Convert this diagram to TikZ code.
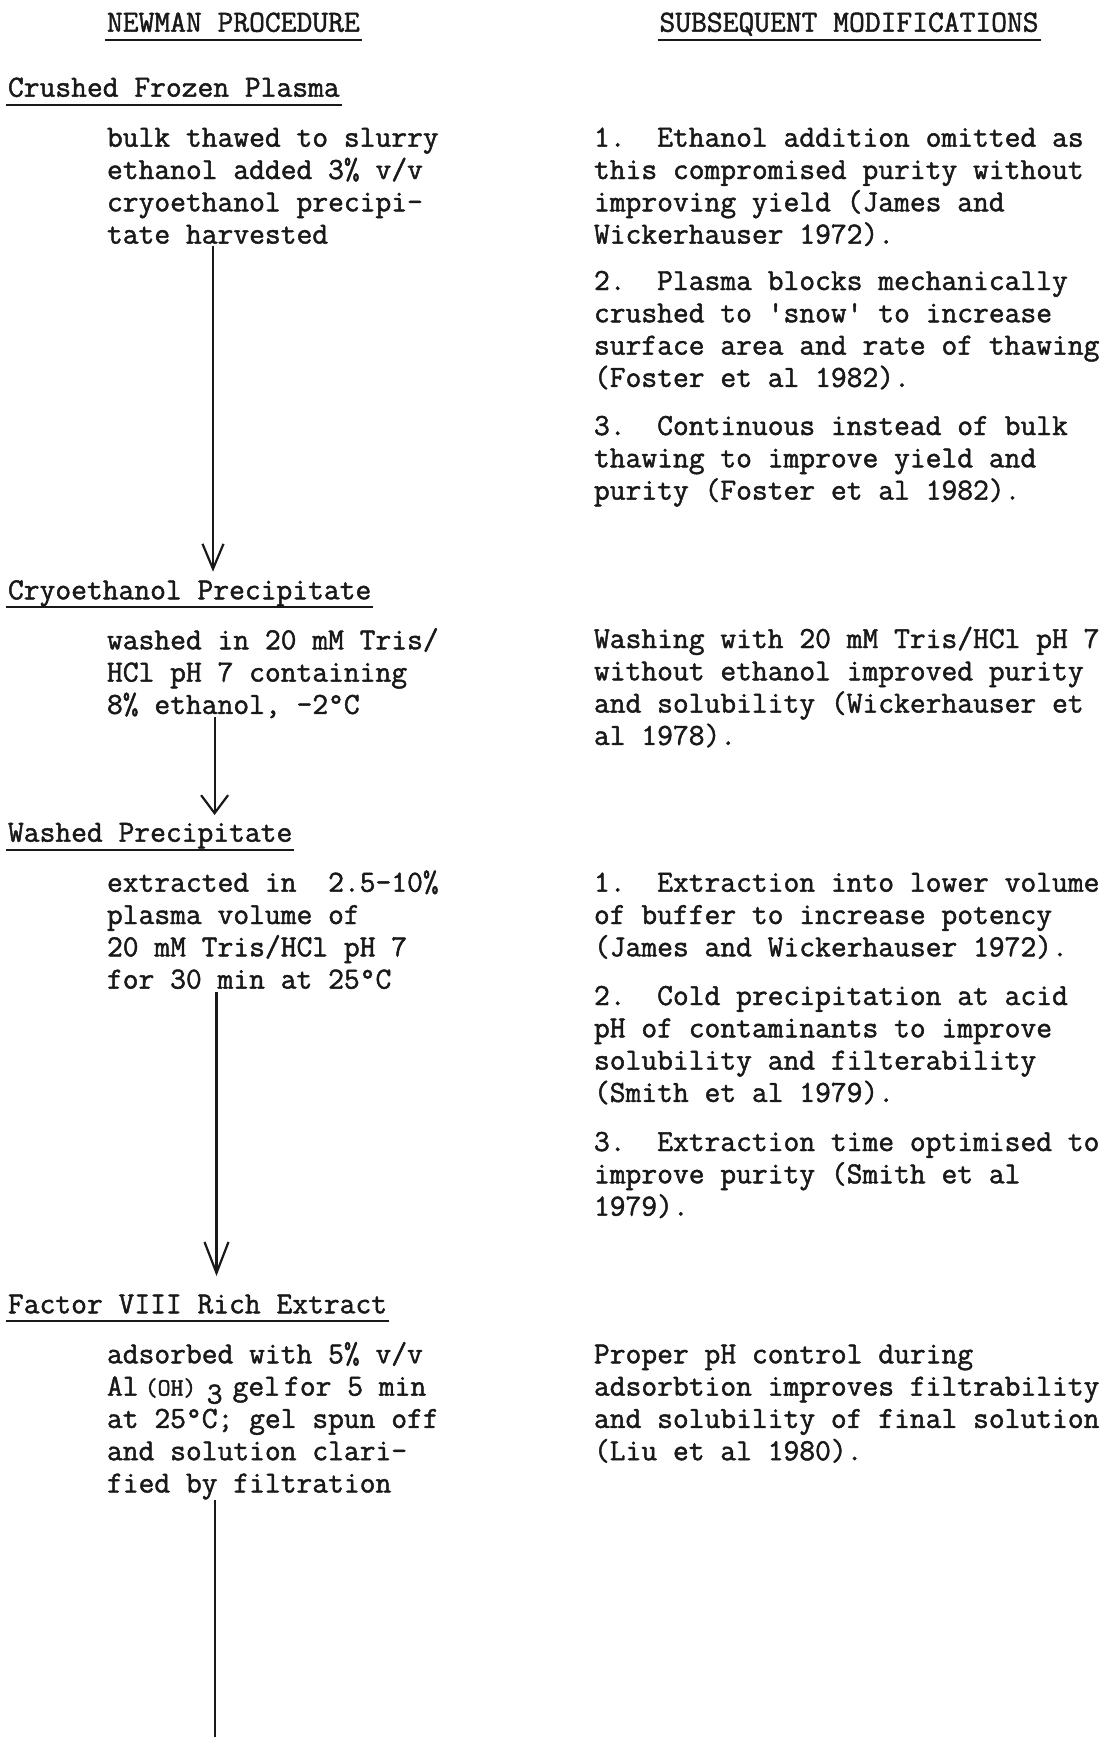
\documentclass[tikz,border=0pt]{standalone}
\usepackage{fontspec}
\setmonofont{Latin Modern Mono}[WordSpace={1,0,0},FakeBold=1.5]
\usetikzlibrary{arrows.meta}
\newcommand\blines[1]{\begin{tabular}[t]{@{}l@{}}#1\end{tabular}}
\begin{document}
\begin{tikzpicture}[x=1pt,y=-1pt,
  txt/.style={anchor=base west,inner sep=0pt,outer sep=0pt,text=black!90,
    font=\ttfamily\frenchspacing\fontsize{30.67}{32.3}\selectfont},
  uline/.style={line width=1.8pt,draw=black!90},
  conn/.style={line width=2.2pt,draw=black!90},
]
\fill[white] (0,0) rectangle (1117,1737);
\useasboundingbox (0,0) rectangle (1117,1737);

% column headings
\node[txt] (h1) at (107,31.7) {NEWMAN PROCEDURE};
\node[txt] (hr) at (659.5,31.7) {SUBSEQUENT MODIFICATIONS};

% stage headings
\node[txt] (s1) at (8,96.7) {Crushed Frozen Plasma};
\node[txt] (s2) at (8,599.3) {Cryoethanol Precipitate};
\node[txt] (s3) at (8,841.7) {Washed Precipitate};
\node[txt] (s4) at (8,1313.3) {Factor VIII Rich Extract};

\foreach \n in {h1,hr,s1,s2,s3,s4}{
  \draw[uline] ([shift={(-2pt,-8pt)}]\n.base west) -- ([shift={(2pt,-8pt)}]\n.base east);
}

% left column descriptions
\node[txt] (l1) at (107,146.7) {\blines{bulk thawed to slurry\\ethanol added 3\% v/v\\cryoethanol precipi-\\tate harvested}};
\node[txt] (l2) at (107,649.3) {\blines{washed in 20 mM Tris/\\HCl pH 7 containing\\8\% ethanol, -2°C}};
\node[txt] (l3) at (107,891.7) {\blines{extracted in\ \ 2.5-10\%\\plasma volume of\\20 mM Tris/HCl pH 7\\for 30 min at 25°C}};
\node[txt] (l4) at (107,1363.3) {\blines{adsorbed with 5\% v/v\\\makebox[37.8pt][l]{Al}\makebox[62pt][l]{\fontsize{25}{32.3}\selectfont(OH)}\makebox[25.8pt][l]{\raisebox{-8pt}{3}}\makebox[51.5pt][l]{gel}for 5 min\\at 25°C; gel spun off\\and solution clari-\\fied by filtration}};

% right column modifications
\node[txt] (r1a) at (594,146.7) {\blines{1.\ \ Ethanol addition omitted as\\this compromised purity without\\improving yield (James and\\Wickerhauser 1972).}};
\node[txt] (r1b) at (594,290) {\blines{2.\ \ Plasma blocks mechanically\\crushed to \textquotesingle snow\textquotesingle{} to increase\\surface area and rate of thawing\\(Foster et al 1982).}};
\node[txt] (r1c) at (594,435) {\blines{3.\ \ Continuous instead of bulk\\thawing to improve yield and\\purity (Foster et al 1982).}};
\node[txt] (r2) at (594,648) {\blines{Washing with 20 mM Tris/HCl pH 7\\without ethanol improved purity\\and solubility (Wickerhauser et\\al 1978).}};
\node[txt] (r3a) at (594,891.7) {\blines{1.\ \ Extraction into lower volume\\of buffer to increase potency\\(James and Wickerhauser 1972).}};
\node[txt] (r3b) at (594,1005) {\blines{2.\ \ Cold precipitation at acid\\pH of contaminants to improve\\solubility and filterability\\(Smith et al 1979).}};
\node[txt] (r3c) at (594,1151) {\blines{3.\ \ Extraction time optimised to\\improve purity (Smith et al\\1979).}};
\node[txt] (r4) at (594,1363.3) {\blines{Proper pH control during\\adsorbtion improves filtrability\\and solubility of final solution\\(Liu et al 1980).}};

% connectors
\coordinate (a1s) at (213,246);
\coordinate (a1e) at (213,571.7);
\coordinate (a2s) at (214.6,717);
\coordinate (a2e) at (214.6,815);
\coordinate (a3s) at (216.5,992);
\coordinate (a3e) at (216.5,1276);
\coordinate (a4s) at (215,1500);
\coordinate (a4e) at (215,1737);
\draw[conn,-{Straight Barb[length=25pt,width=21pt]}] (a1s) -- (a1e);
\draw[conn,-{Straight Barb[length=18pt,width=27pt]}] (a2s) -- (a2e);
\draw[conn,-{Straight Barb[length=31pt,width=24pt]}] (a3s) -- (a3e);
\draw[conn] (a4s) -- (a4e);
\end{tikzpicture}
\end{document}
